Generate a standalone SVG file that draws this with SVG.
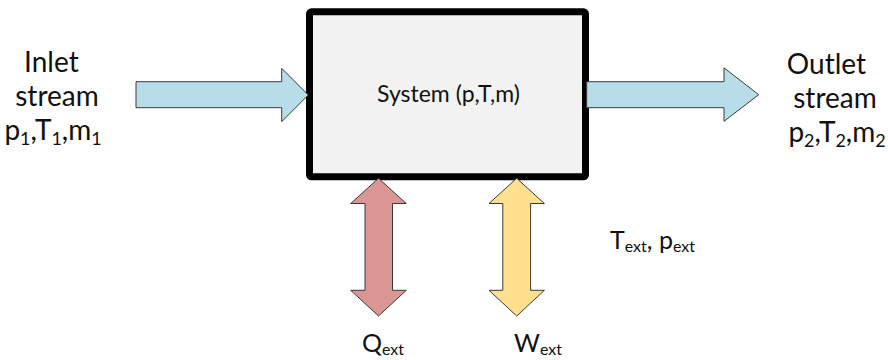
<svg xmlns="http://www.w3.org/2000/svg" width="888" height="360" viewBox="0 0 888 360">
  <style>
    text { font-family: Lato, "Open Sans", "Liberation Sans", sans-serif; fill: #111111; }
    .big { font-size: 28px; }
    .mid { font-size: 25px; }
    .sys { font-size: 23px; }
    .sub { font-size: 0.64em; }
    .flow { fill: #b7dde8; stroke: #3a3a3a; stroke-width: 1; stroke-linejoin: miter; }
    .heat { fill: #d99694; stroke: #3a3a3a; stroke-width: 1; }
    .work { fill: #fee08f; stroke: #3a3a3a; stroke-width: 1; }
  </style>

  <rect width="888" height="360" fill="#ffffff"/>

  <!-- control volume -->
  <g id="system">
    <rect x="309.5" y="11.8" width="276" height="165" rx="2" fill="#f2f2f2" stroke="#000000" stroke-width="7"/>
    <text class="sys" x="448.5" y="102" text-anchor="middle">System (p,T,m)</text>
  </g>

  <g id="inlet">
    <text class="big" text-anchor="middle">
      <tspan x="55" y="72">Inlet</tspan>
      <tspan x="57" y="106">stream</tspan>
    </text>
    <text class="big" x="53" y="140" text-anchor="middle">p<tspan class="sub" dy="5">1</tspan><tspan dy="-5">,T</tspan><tspan class="sub" dy="5">1</tspan><tspan dy="-5">,m</tspan><tspan class="sub" dy="5">1</tspan></text>
  </g>

  <g id="outlet">
    <text class="big" text-anchor="middle">
      <tspan x="830" y="74">Outlet</tspan>
      <tspan x="835" y="108">stream</tspan>
    </text>
    <text class="big" x="837" y="142" text-anchor="middle">p<tspan class="sub" dy="5">2</tspan><tspan dy="-5">,T</tspan><tspan class="sub" dy="5">2</tspan><tspan dy="-5">,m</tspan><tspan class="sub" dy="5">2</tspan></text>
  </g>

  <g id="heat">
    <text class="mid" x="362" y="352">Q<tspan class="sub" dy="3">ext</tspan></text>
  </g>

  <g id="work">
    <text class="mid" x="514" y="352">W<tspan class="sub" dy="3">ext</tspan></text>
  </g>

  <g id="surroundings">
    <text class="mid" x="610" y="249">T<tspan class="sub" dy="3">ext</tspan><tspan dy="-3">, p</tspan><tspan class="sub" dy="3">ext</tspan></text>
  </g>

  <!-- mass, heat and work flows -->
  <g id="connectors">
    <path class="flow" d="M136,81.7 H281.7 V68.3 L308.3,95 L281.7,121.7 V107.7 H136 Z"/>
    <path class="flow" d="M586.7,81.7 H724 V67.8 L758.7,94.7 L724,121.3 V107.7 H586.7 Z"/>
    <path class="heat" d="M378.5,178.3 L406.3,203.5 H392.5 V290.3 H406.3 L378.5,316 L350.7,290.3 H365 V203.5 H350.7 Z"/>
    <path class="work" d="M516.7,178.3 L544.4,203.5 H530.6 V290.3 H544.4 L516.7,316 L489,290.3 H502.8 V203.5 H489 Z"/>
  </g>
</svg>
